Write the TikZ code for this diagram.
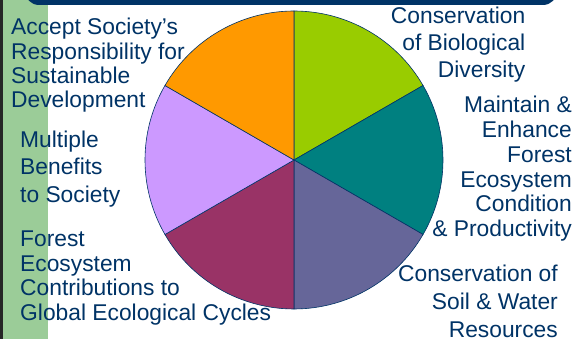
\documentclass[tikz,border=0pt]{standalone}
\usepackage{fontspec}
\setmainfont{Liberation Sans}
\definecolor{navy}{HTML}{003366}
\definecolor{barGreen}{HTML}{9BCC98}
\definecolor{sliceLime}{HTML}{99CC00}
\definecolor{sliceTeal}{HTML}{008080}
\definecolor{sliceSlate}{HTML}{666699}
\definecolor{sliceMaroon}{HTML}{993366}
\definecolor{sliceLilac}{HTML}{CC99FF}
\definecolor{sliceOrange}{HTML}{FF9900}

\begin{document}
\begin{tikzpicture}[x=1pt,y=1pt,
    lbl/.style={inner sep=0pt,text=navy},
    slice/.style={draw=navy,line width=0.6pt}]
    \clip (0,0) rectangle (576,339);
    \fill[white] (0,0) rectangle (576,339);

    % side bar and top bar
    \fill[black!85] (0,0) rectangle (2.5,339);
    \fill[barGreen] (2.5,0) rectangle (48,339);
    \fill[navy,rounded corners=14pt] (25,360) -- (25,334) -- (557,334) [sharp corners] -- (557,360) -- cycle;

    % pie
    \coordinate (pc) at (294,179);
    \filldraw[slice,fill=sliceLime]   (pc) -- ++(90:149)  arc[start angle=90,end angle=30,radius=149] -- cycle;
    \filldraw[slice,fill=sliceTeal]   (pc) -- ++(30:149)  arc[start angle=30,end angle=-30,radius=149] -- cycle;
    \filldraw[slice,fill=sliceSlate]  (pc) -- ++(-30:149) arc[start angle=-30,end angle=-90,radius=149] -- cycle;
    \filldraw[slice,fill=sliceMaroon] (pc) -- ++(-90:149) arc[start angle=-90,end angle=-150,radius=149] -- cycle;
    \filldraw[slice,fill=sliceLilac]  (pc) -- ++(210:149) arc[start angle=210,end angle=150,radius=149] -- cycle;
    \filldraw[slice,fill=sliceOrange] (pc) -- ++(150:149) arc[start angle=150,end angle=90,radius=149] -- cycle;

    % left labels (placed by the baseline of their last line)
    \node[lbl,align=left,anchor=base west,font=\fontsize{22.8}{24.4}\selectfont] (accept) at (11,231)
      {Accept Society’s\\Responsibility for\\Sustainable\\Development};
    \node[lbl,align=left,anchor=base west,font=\fontsize{22.8}{27.5}\selectfont] (benefits) at (20,136.7)
      {Multiple\\Benefits\\to Society};
    \node[lbl,align=left,anchor=base west,font=\fontsize{22.8}{24.7}\selectfont] (cycles) at (20,18.3)
      {Forest\\Ecosystem\\Contributions to\\Global Ecological Cycles};

    % right labels
    \node[lbl,align=right,anchor=base east,font=\fontsize{22.8}{26.7}\selectfont] (biodiv) at (525.5,261.7)
      {Conservation\\of Biological\\Diversity};
    \node[lbl,align=right,anchor=base east,font=\fontsize{22.8}{24.8}\selectfont] (health) at (572,102.3)
      {Maintain \&\\Enhance\\Forest\\Ecosystem\\Condition\\\& Productivity};
    \node[lbl,align=right,anchor=base east,font=\fontsize{22.8}{27.8}\selectfont] (soil) at (558,1.7)
      {Conservation of\\Soil \& Water\\Resources};
\end{tikzpicture}
\end{document}
